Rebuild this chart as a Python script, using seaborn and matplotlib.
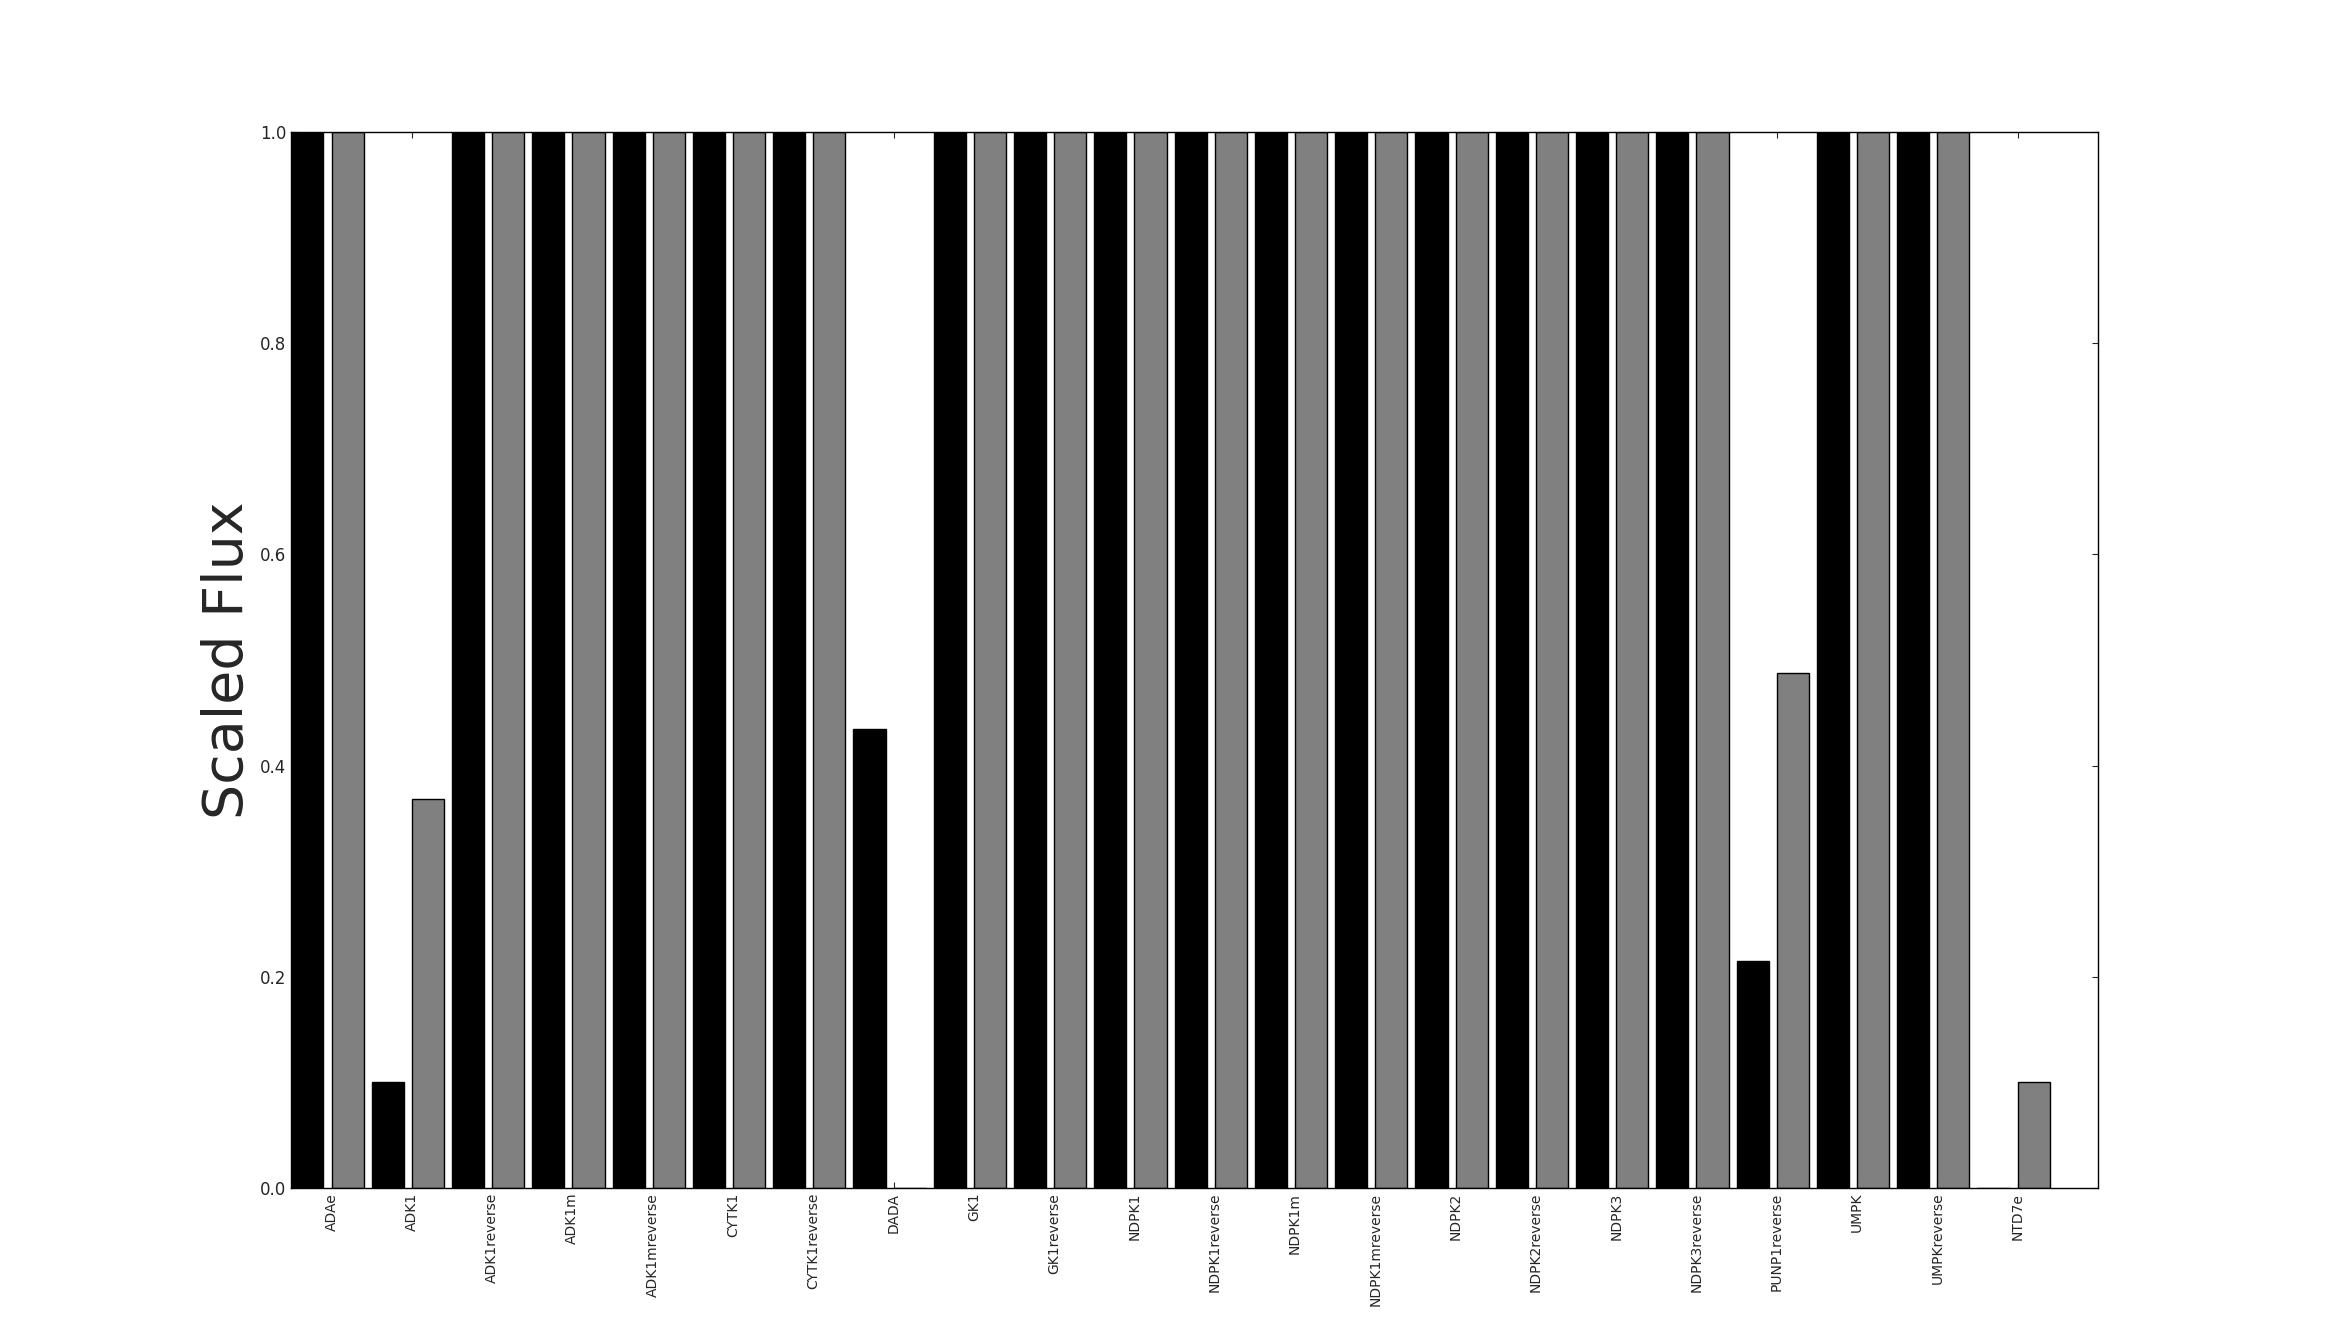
import numpy as np
import pandas as pd
import matplotlib
matplotlib.use("Agg")
import matplotlib.pyplot as plt
import seaborn as sns

# reaction names on the x axis
reactions = ["ADAe", "ADK1", "ADK1reverse", "ADK1m", "ADK1mreverse", "CYTK1",
             "CYTK1reverse", "DADA", "GK1", "GK1reverse", "NDPK1", "NDPK1reverse",
             "NDPK1m", "NDPK1mreverse", "NDPK2", "NDPK2reverse", "NDPK3",
             "NDPK3reverse", "PUNP1reverse", "UMPK", "UMPKreverse", "NTD7e"]

# scaled flux, first condition (black bars)
flux_a = [1.0, 0.10, 1.0, 1.0, 1.0, 1.0, 1.0, 0.435, 1.0, 1.0, 1.0, 1.0,
          1.0, 1.0, 1.0, 1.0, 1.0, 1.0, 0.215, 1.0, 1.0, 0.0]
# scaled flux, second condition (gray bars)
flux_b = [1.0, 0.368, 1.0, 1.0, 1.0, 1.0, 1.0, 0.0, 1.0, 1.0, 1.0, 1.0,
          1.0, 1.0, 1.0, 1.0, 1.0, 1.0, 0.488, 1.0, 1.0, 0.10]

conditions = ["A", "B"]


def main():
    df = pd.concat([
        pd.DataFrame({"reaction": reactions, "flux": flux_a, "condition": conditions[0]}),
        pd.DataFrame({"reaction": reactions, "flux": flux_b, "condition": conditions[1]}),
    ], ignore_index=True)

    sns.set_style("white")
    plt.rcParams.update({
        "font.family": ["DejaVu Sans"],
        "xtick.direction": "in",
        "ytick.direction": "in",
        "xtick.major.size": 4,
        "ytick.major.size": 4,
        "axes.edgecolor": "black",
        "axes.linewidth": 1.0,
    })

    fig, ax = plt.subplots(figsize=(23.31, 13.2), dpi=100)
    fig.subplots_adjust(left=0.125, right=0.9, bottom=0.1, top=0.9)

    sns.barplot(data=df, x="reaction", y="flux", hue="condition",
                palette={"A": "black", "B": "gray"}, saturation=1,
                width=1.0, gap=0.2, edgecolor="black", linewidth=1.0,
                err_kws={"linewidth": 0}, legend=False, ax=ax)

    # original layout: bars start right at the left spine, tick sits at the gray bar's left edge
    ax.set_xlim(-0.45, 22.05)
    ax.set_xticks(np.arange(len(reactions)) + 0.05)
    ax.set_xticklabels(reactions)
    ax.set_ylim(0, 1.0)
    ax.set_yticks([0.0, 0.2, 0.4, 0.6, 0.8, 1.0])
    ax.set_yticklabels(["0.0", "0.2", "0.4", "0.6", "0.8", "1.0"], fontsize=12)
    ax.tick_params(axis="x", labelsize=10, labelrotation=90, top=True, bottom=True,
                   direction="in", length=4)
    ax.tick_params(axis="y", left=True, right=True, direction="in", length=4)
    ax.set_xlabel("")
    ax.set_ylabel("Scaled Flux", fontsize=40)
    for s in ax.spines.values():
        s.set_visible(True)
        s.set_color("black")

    fig.savefig("out.png", dpi=100, facecolor="white")
    plt.close(fig)


if __name__ == "__main__":
    main()
